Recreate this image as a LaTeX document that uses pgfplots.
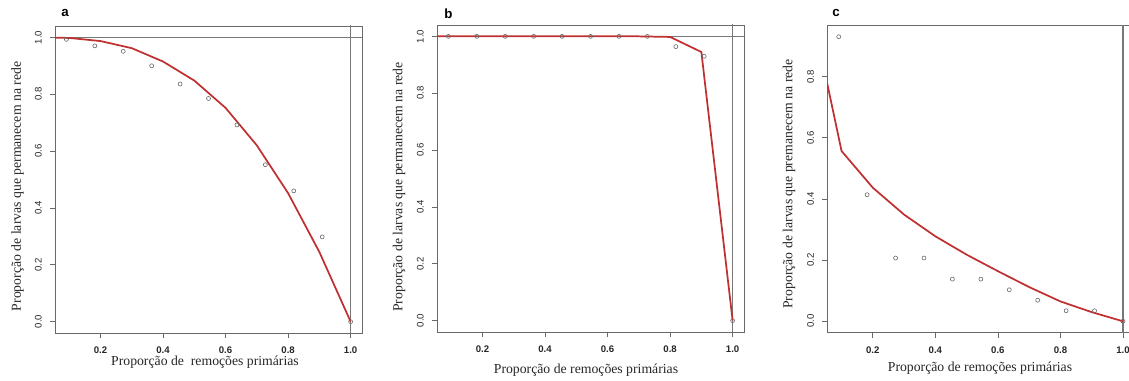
\documentclass[border=0pt]{standalone}
\usepackage{pgfplots}
\pgfplotsset{compat=1.18}
\usepackage{fontspec}
\setmainfont{Liberation Serif}
\setsansfont{Liberation Sans}
\definecolor{rline}{RGB}{192,48,48}
\definecolor{boxc}{RGB}{105,105,105}
\definecolor{refc}{RGB}{120,120,120}
\pgfplotsset{
  rstyle/.style={
    scale only axis, width=230.25pt, height=230.25pt,
    anchor=north west,
    xmin=0.0545, xmax=1.0364,
    xtick={0.2,0.4,0.6,0.8,1.0},
    xticklabels={0.2,0.4,0.6,0.8,1.0},
    tick align=outside, major tick length=3.75pt,
    tick style={boxc, line width=0.6pt},
    axis line style={boxc, line width=0.6pt},
    xtick pos=bottom, ytick pos=left,
    xticklabel style={font=\fontsize{7.2}{8}\sffamily\bfseries, text=black!85, anchor=center, yshift=-9.4pt},
    yticklabel style={font=\fontsize{7.2}{8}\sffamily, text=black!85, xshift=-8.8pt, rotate=90, anchor=center},
    clip=true,
  },
  ptstyle/.style={only marks, mark=o, mark size=1.5pt, mark options={boxc, line width=0.45pt}},
  redstyle/.style={rline, line width=1.3pt, no marks},
}
\begin{document}
\begin{tikzpicture}
\clip (0,0) rectangle (846.75pt,285.75pt);
% ---------- panel a ----------
\begin{axis}[rstyle, at={(41.25pt,266.25pt)},
  ymin=-0.04, ymax=1.04,
  ytick={0,0.2,0.4,0.6,0.8,1.0},
  yticklabels={0.0,0.2,0.4,0.6,0.8,1.0}]
\addplot[refc, line width=0.5pt] coordinates {(0,1) (1.1,1)};
\addplot[refc, line width=0.9pt] coordinates {(1,-0.1) (1,1.1)};
\addplot[redstyle] coordinates {
(0,1.0) (0.1,0.998) (0.2,0.987) (0.3,0.962) (0.4,0.915) (0.5,0.848)
(0.6,0.752) (0.7,0.620) (0.8,0.452) (0.9,0.245) (1.0,0.0)};
\addplot[ptstyle] coordinates {
(0.0909,0.993) (0.1818,0.970) (0.2727,0.951) (0.3636,0.900) (0.4545,0.836)
(0.5455,0.785) (0.6364,0.692) (0.7273,0.552) (0.8182,0.460) (0.9091,0.298) (1.0,0.0)};
\end{axis}
% ---------- panel b ----------
\begin{axis}[rstyle, at={(327.75pt,267pt)},
  ymin=-0.04, ymax=1.04,
  ytick={0,0.2,0.4,0.6,0.8,1.0},
  yticklabels={0.0,0.2,0.4,0.6,0.8,1.0}]
\addplot[refc, line width=0.5pt] coordinates {(0,1) (1.1,1)};
\addplot[refc, line width=0.9pt] coordinates {(1,-0.1) (1,1.1)};
\addplot[redstyle] coordinates {
(0,1.0) (0.1,1.0) (0.2,1.0) (0.3,1.0) (0.4,1.0) (0.5,1.0)
(0.6,1.0) (0.7,1.0) (0.8,0.998) (0.9,0.945) (1.0,0.0)};
\addplot[ptstyle] coordinates {
(0.0909,1.0) (0.1818,1.0) (0.2727,1.0) (0.3636,1.0) (0.4545,1.0)
(0.5455,1.0) (0.6364,1.0) (0.7273,1.0) (0.8182,0.964) (0.9091,0.930) (1.0,0.0)};
\end{axis}
% ---------- panel c ----------
\begin{axis}[rstyle, at={(620.5pt,266.5pt)},
  ymin=-0.0372, ymax=0.9672,
  ytick={0,0.2,0.4,0.6,0.8},
  yticklabels={0.0,0.2,0.4,0.6,0.8}]
\addplot[refc, line width=0.9pt] coordinates {(1,-0.1) (1,1.1)};
\addplot[redstyle] coordinates {
(0.05,0.798) (0.1,0.557) (0.2,0.437) (0.3,0.349) (0.4,0.278) (0.5,0.218)
(0.6,0.164) (0.7,0.112) (0.8,0.065) (0.9,0.030) (1.0,0.0)};
\addplot[ptstyle] coordinates {
(0.0909,0.931) (0.1818,0.414) (0.2727,0.207) (0.3636,0.207) (0.4545,0.138)
(0.5455,0.138) (0.6364,0.103) (0.7273,0.069) (0.8182,0.0345) (0.9091,0.0345) (1.0,0.0)};
\end{axis}
% ---------- labels ----------
\begin{scope}[x=0.75pt, y=-0.75pt, shift={(0,285.75pt)}]
\tikzset{lab/.style={font=\fontsize{10.3}{12}\selectfont, text=black!85, inner sep=0pt}}
\node[lab, rotate=90] at (17.5,186.5) {Proporção de larvas que permanecem na rede};
\node[lab, rotate=90] at (399,187) {Proporção de larvas que permanecem na rede};
\node[lab, rotate=90] at (789,184) {Proporção de larvas que premanecem na rede};
\node[lab] at (205,362) {Proporção de\ \ remoções primárias};
\node[lab] at (586,370) {Proporção de remoções primárias};
\node[lab] at (980,368) {Proporção de remoções primárias};
\tikzset{let/.style={anchor=base west, font=\fontsize{10}{12}\sffamily\bfseries, inner sep=0pt}}
\node[let] at (61,17) {a};
\node[let] at (444,19) {b};
\node[let] at (832,17) {c};
\end{scope}
\end{tikzpicture}
\end{document}
